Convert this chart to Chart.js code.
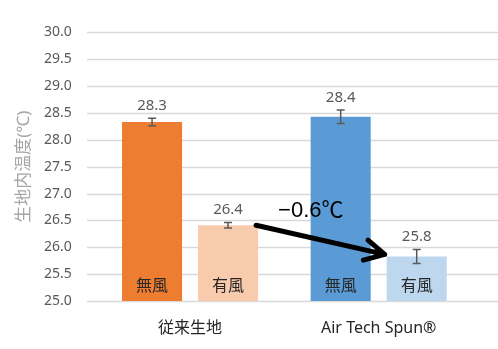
<!DOCTYPE html>
<html>
<head>
<meta charset="utf-8">
<script src="https://cdn.jsdelivr.net/npm/chart.js@4"></script>
<style>
  html, body { margin: 0; padding: 0; background: #fff; }
  #wrap { width: 498px; height: 349px; }
</style>
</head>
<body>
<div id="wrap"><canvas id="chart"></canvas></div>
<script>
// Chart data
const categories = ['従来生地', 'Air Tech Spun®'];
const windLabels = ['無風', '有風'];
const noWindValues = [28.33, 28.43];
const withWindValues = [26.41, 25.83];
const noWindErrors = [0.07, 0.125];
const withWindErrors = [0.05, 0.13];
const valueLabels = [['28.3', '28.4'], ['26.4', '25.8']];
const yMin = 25.0;
const yMax = 30.0;
const yStep = 0.5;
const yTitle = '生地内温度(℃)';
const diffLabel = '−0.6℃';

const FONT = '"Noto Sans", "Noto Sans CJK JP", sans-serif';

// Draws gridlines across the whole width, error bars, labels and the arrow
const extrasPlugin = {
    id: 'extras',
    beforeDatasetsDraw(chart) {
        const ctx = chart.ctx;
        const y = chart.scales.y;
        ctx.save();
        ctx.strokeStyle = '#d9d9d9';
        ctx.lineWidth = 1.3;
        y.ticks.forEach(t => {
            const py = Math.round(y.getPixelForValue(t.value)) + 0.5;
            ctx.beginPath();
            ctx.moveTo(87, py);
            ctx.lineTo(chart.width, py);
            ctx.stroke();
        });
        ctx.restore();
    },
    afterDatasetsDraw(chart) {
        const ctx = chart.ctx;
        const y = chart.scales.y;
        const baseY = y.getPixelForValue(yMin);
        const errs = [noWindErrors, withWindErrors];
        ctx.save();
        chart.data.datasets.forEach((ds, di) => {
            const meta = chart.getDatasetMeta(di);
            meta.data.forEach((bar, i) => {
                const v = ds.data[i];
                const top = y.getPixelForValue(v + errs[di][i]);
                const bot = y.getPixelForValue(v - errs[di][i]);
                // error bar
                ctx.strokeStyle = '#595959';
                ctx.lineWidth = 1.5;
                ctx.beginPath();
                ctx.moveTo(bar.x, top);
                ctx.lineTo(bar.x, bot);
                ctx.moveTo(bar.x - 4, top);
                ctx.lineTo(bar.x + 4, top);
                ctx.moveTo(bar.x - 4, bot);
                ctx.lineTo(bar.x + 4, bot);
                ctx.stroke();
                // value label
                ctx.fillStyle = '#595959';
                ctx.font = '15px ' + FONT;
                ctx.textAlign = 'center';
                ctx.textBaseline = 'bottom';
                ctx.fillText(valueLabels[di][i], bar.x, top - 5);
                // wind label inside the bar
                ctx.fillStyle = '#262626';
                ctx.font = '16px "Noto Sans CJK JP", sans-serif';
                ctx.textBaseline = 'middle';
                ctx.fillText(windLabels[di], bar.x, baseY - 16);
            });
        });

        // arrow between the two "with wind" bars
        const m = chart.getDatasetMeta(1);
        const a = m.data[0], b = m.data[1];
        const sx = a.x + a.width / 2 - 2, sy = a.y;
        const ex = b.x - b.width / 2 - 2, ey = b.y - 2;
        ctx.strokeStyle = '#000';
        ctx.lineWidth = 5;
        ctx.lineCap = 'round';
        ctx.lineJoin = 'round';
        ctx.beginPath();
        ctx.moveTo(sx, sy);
        ctx.lineTo(ex, ey);
        const ang = Math.atan2(sy - ey, sx - ex);
        const wing = 22, spread = 28 * Math.PI / 180;
        ctx.moveTo(ex + wing * Math.cos(ang - spread), ey + wing * Math.sin(ang - spread));
        ctx.lineTo(ex, ey);
        ctx.lineTo(ex + wing * Math.cos(ang + spread), ey + wing * Math.sin(ang + spread));
        ctx.stroke();

        ctx.fillStyle = '#000';
        ctx.font = '22px "Liberation Sans", Arial, "Noto Sans CJK JP", sans-serif';
        ctx.textAlign = 'left';
        ctx.textBaseline = 'alphabetic';
        ctx.fillText(diffLabel, sx + 22, sy - 8);
        ctx.restore();
    }
};

const chart = new Chart(document.getElementById('chart'), {
    type: 'bar',
    data: {
        labels: categories,
        datasets: [{
            label: windLabels[0],
            data: noWindValues,
            backgroundColor: ['#ed7d31', '#5b9bd5']
        }, {
            label: windLabels[1],
            data: withWindValues,
            backgroundColor: ['#f8cbad', '#bdd7ee']
        }]
    },
    options: {
        responsive: true,
        maintainAspectRatio: false,
        animation: false,
        categoryPercentage: 0.806,
        barPercentage: 0.79,
        layout: {
            padding: { top: 32, right: 25, left: 0, bottom: 0 }
        },
        plugins: {
            legend: { display: false },
            tooltip: { enabled: false }
        },
        scales: {
            x: {
                grid: { display: false, drawTicks: false, tickLength: 0 },
                border: { display: false },
                ticks: {
                    color: '#262626',
                    font: { size: 16, family: FONT },
                    padding: 18
                },
                afterFit: scale => { scale.height = 48; }
            },
            y: {
                min: yMin,
                max: yMax,
                grid: { display: false, drawTicks: false, tickLength: 0 },
                border: { display: false },
                ticks: {
                    stepSize: yStep,
                    color: '#595959',
                    font: { size: 14, family: FONT },
                    padding: 24,
                    callback: v => v.toFixed(1)
                },
                title: {
                    display: true,
                    text: yTitle,
                    color: '#a6a6a6',
                    font: { size: 17, family: FONT },
                    padding: { top: 14, bottom: 0 }
                },
                afterFit: scale => { scale.width = 95.75; }
            }
        }
    },
    plugins: [extrasPlugin]
});
</script>
</body>
</html>
